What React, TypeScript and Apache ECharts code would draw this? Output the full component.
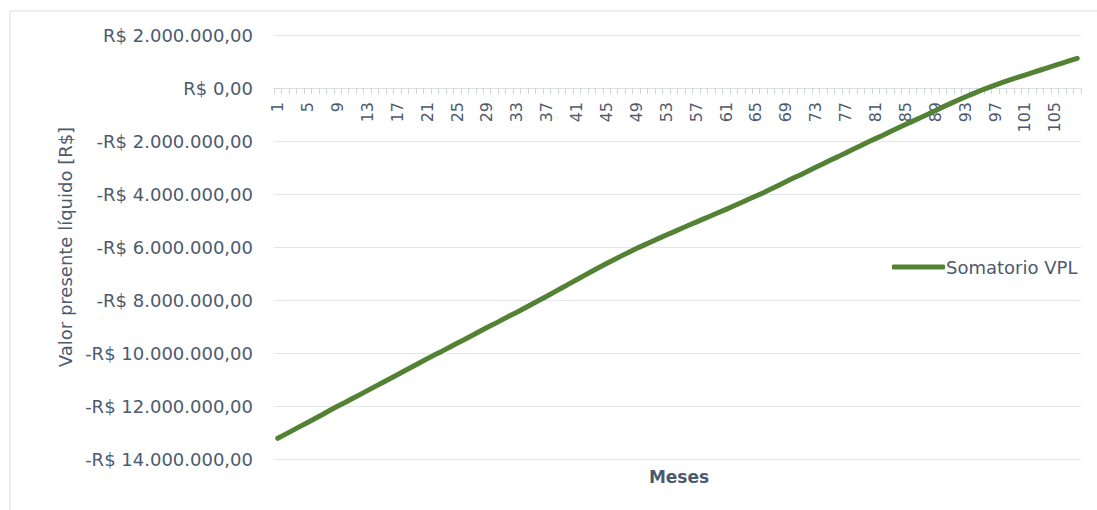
import React, { useEffect, useRef } from "react";
import * as echarts from "echarts";

const months: string[] = Array.from({ length: 108 }, (_, i) => String(i + 1));

// Somatorio VPL (R$)
const somatorioVPL: number[] = [
  -13220000, -13070000, -12920000, -12770000, -12620000, -12470000, -12320000, -12160000, -12010000,
  -11870000, -11720000, -11570000, -11420000, -11270000, -11120000, -10970000, -10820000, -10670000,
  -10520000, -10370000, -10220000, -10070000, -9930000, -9780000, -9630000, -9490000, -9340000,
  -9190000, -9040000, -8900000, -8750000, -8600000, -8460000, -8310000, -8160000, -8010000,
  -7860000, -7700000, -7545000, -7390000, -7235000, -7080000, -6925000, -6775000, -6625000,
  -6480000, -6335000, -6195000, -6060000, -5930000, -5800000, -5675000, -5550000, -5430000,
  -5300000, -5180000, -5060000, -4940000, -4820000, -4700000, -4580000, -4455000, -4330000,
  -4200000, -4075000, -3950000, -3815000, -3675000, -3540000, -3400000, -3270000, -3130000,
  -2990000, -2860000, -2720000, -2590000, -2450000, -2310000, -2180000, -2040000, -1910000,
  -1780000, -1640000, -1510000, -1380000, -1250000, -1120000, -990000, -860000, -720000,
  -590000, -465000, -340000, -220000, -105000, 5000, 110000, 210000, 305000,
  400000, 490000, 580000, 670000, 760000, 850000, 940000, 1030000, 1120000,
];

const seriesName = "Somatorio VPL";
const xAxisTitle = "Meses";
const yAxisTitle = "Valor presente líquido [R$]";

const FONT = "DejaVu Sans";
const TEXT = "#4d5a6e";

function brl(v: number): string {
  const abs = Math.abs(v);
  const int = Math.floor(abs).toString().replace(/\B(?=(\d{3})+(?!\d))/g, ".");
  const s = "R$ " + int + ",00";
  return v < 0 ? "-" + s : s;
}

export default function App() {
  const ref = useRef<HTMLDivElement>(null);
  useEffect(() => {
    if (!ref.current) return;
    const chart = echarts.init(ref.current, null, { renderer: "svg" });
    chart.setOption({
      animation: false,
      backgroundColor: "#ffffff",
      textStyle: { fontFamily: FONT },
      grid: { left: 274, right: 16, top: 35, bottom: 51, containLabel: false },
      graphic: [
        {
          type: "rect",
          shape: { x: 10, y: 11, width: 1090, height: 505 },
          style: { fill: "none", stroke: "#d9dde3", lineWidth: 1 },
          silent: true,
        },
        {
          type: "text",
          x: 679,
          y: 477,
          style: {
            text: xAxisTitle,
            fill: TEXT,
            font: `bold 17px "${FONT}"`,
            textAlign: "center",
            textVerticalAlign: "middle",
          },
        },
      ],
      legend: {
        data: [seriesName],
        left: 887,
        top: 253,
        icon: "roundRect",
        itemWidth: 53,
        itemHeight: 5,
        itemGap: 4,
        textStyle: { color: TEXT, fontSize: 18, fontFamily: FONT, padding: [0, 0, 0, -4] },
      },
      xAxis: {
        type: "category",
        data: months,
        boundaryGap: true,
        position: "bottom",
        offset: -371,
        axisLine: { onZero: false, lineStyle: { color: "#d9dde3", width: 1 } },
        axisTick: { show: true, interval: 0, length: 6, lineStyle: { color: "#d0d4da" } },
        axisLabel: {
          interval: 3,
          rotate: 90,
          color: TEXT,
          fontSize: 16,
          fontFamily: FONT,
          margin: 14,
          padding: [8, 0, 0, 0],
        },
        splitLine: { show: false },
      },
      yAxis: {
        type: "value",
        min: -14000000,
        max: 2000000,
        interval: 2000000,
        name: yAxisTitle,
        nameLocation: "middle",
        nameGap: 200,
        nameTextStyle: { color: TEXT, fontSize: 18, fontFamily: FONT },
        axisLine: { show: false },
        axisTick: { show: false },
        axisLabel: {
          color: TEXT,
          fontSize: 18,
          fontFamily: FONT,
          margin: 21,
          formatter: (v: number) => brl(v),
        },
        splitLine: { lineStyle: { color: "#e3e6ea", width: 1 } },
      },
      series: [
        {
          name: seriesName,
          type: "line",
          data: somatorioVPL,
          symbol: "none",
          smooth: false,
          lineStyle: { color: "#548235", width: 5, cap: "round", join: "round" },
          itemStyle: { color: "#548235" },
        },
      ],
    });
    return () => chart.dispose();
  }, []);
  return (
    <div
      ref={ref}
      style={{ position: "fixed", left: 0, top: 0, width: 1097, height: 510 }}
    />
  );
}
